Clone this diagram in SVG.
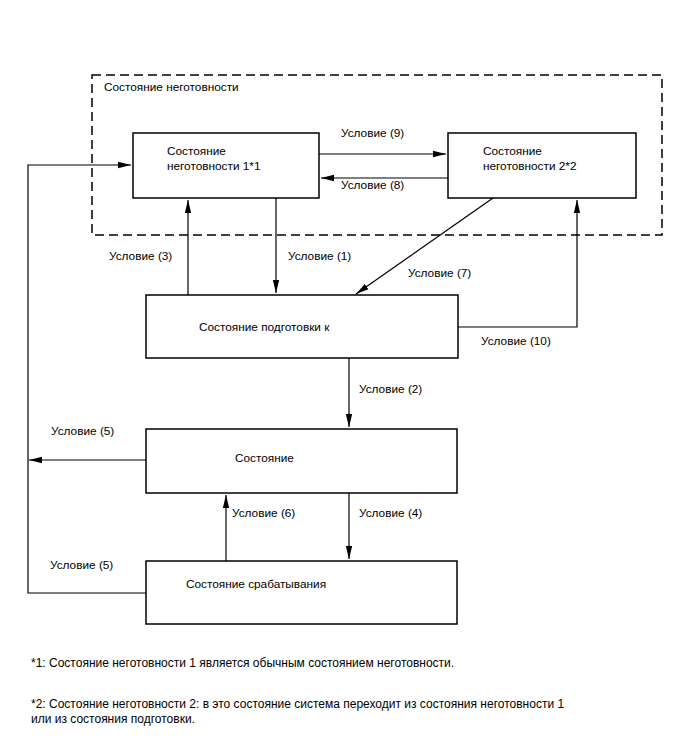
<svg xmlns="http://www.w3.org/2000/svg" width="688" height="755" viewBox="0 0 688 755">
<style>
text{font-family:"Liberation Sans",Arial,sans-serif;font-size:11.8px;fill:#000}
.box{fill:#fff;stroke:#000;stroke-width:1.5}
.c{fill:none;stroke:#000;stroke-width:1.2}
.dash{fill:none;stroke:#000;stroke-width:1.5;stroke-dasharray:9,5}
.fn{font-size:12px}
</style>
<defs>
<marker id="ah" markerUnits="userSpaceOnUse" markerWidth="14" markerHeight="10" viewBox="0 0 14 10" refX="13" refY="5" orient="auto">
<path d="M0,1.8 L13,5 L0,8.2 Z" fill="#000"/>
</marker>
</defs>
<rect width="688" height="755" fill="#fff"/>
<g id="group-unready">
<rect class="dash" x="92" y="75" width="570" height="160"/>
<text x="104" y="91">Состояние неготовности</text>
</g>
<g id="unready1">
<rect class="box" x="133" y="133" width="186" height="65"/>
<text x="167" y="155">Состояние</text>
<text x="167" y="170">неготовности 1*1</text>
</g>
<g id="unready2">
<rect class="box" x="448" y="133" width="188" height="65"/>
<text x="483" y="155">Состояние</text>
<text x="483" y="170">неготовности 2*2</text>
</g>
<g id="prep">
<rect class="box" x="146" y="295" width="312" height="63"/>
<text x="199" y="331">Состояние подготовки к</text>
</g>
<g id="state">
<rect class="box" x="146" y="429" width="311" height="64"/>
<text x="235" y="462">Состояние</text>
</g>
<g id="trigger">
<rect class="box" x="146" y="561" width="311" height="63"/>
<text x="186" y="588">Состояние срабатывания</text>
</g>
<g id="connectors">
<line class="c" x1="319" y1="154" x2="446" y2="154" marker-end="url(#ah)"/>
<line class="c" x1="448" y1="178" x2="321" y2="178" marker-end="url(#ah)"/>
<polyline class="c" points="146,593 28,593 28,165 131,165" marker-end="url(#ah)"/>
<line class="c" x1="188" y1="295" x2="188" y2="200" marker-end="url(#ah)"/>
<line class="c" x1="276" y1="198" x2="276" y2="293" marker-end="url(#ah)"/>
<line class="c" x1="493" y1="198" x2="356" y2="294" marker-end="url(#ah)"/>
<polyline class="c" points="458,327 577,327 577,200" marker-end="url(#ah)"/>
<line class="c" x1="349" y1="358" x2="349" y2="427" marker-end="url(#ah)"/>
<line class="c" x1="146" y1="460" x2="29" y2="460" marker-end="url(#ah)"/>
<line class="c" x1="226" y1="561" x2="226" y2="495" marker-end="url(#ah)"/>
<line class="c" x1="349" y1="493" x2="349" y2="559" marker-end="url(#ah)"/>
</g>
<g id="labels">
<text x="341" y="137">Условие (9)</text>
<text x="341" y="189">Условие (8)</text>
<text x="109" y="260">Условие (3)</text>
<text x="288" y="260">Условие (1)</text>
<text x="408" y="277">Условие (7)</text>
<text x="481" y="345">Условие (10)</text>
<text x="359" y="393">Условие (2)</text>
<text x="51" y="435">Условие (5)</text>
<text x="232" y="517">Условие (6)</text>
<text x="359" y="517">Условие (4)</text>
<text x="50" y="569">Условие (5)</text>
</g>
<g id="footnotes">
<text class="fn" x="31" y="667">*1: Состояние неготовности 1 является обычным состоянием неготовности.</text>
<text class="fn" x="31" y="708">*2: Состояние неготовности 2: в это состояние система переходит из состояния неготовности 1</text>
<text class="fn" x="31" y="723">или из состояния подготовки.</text>
</g>
</svg>
